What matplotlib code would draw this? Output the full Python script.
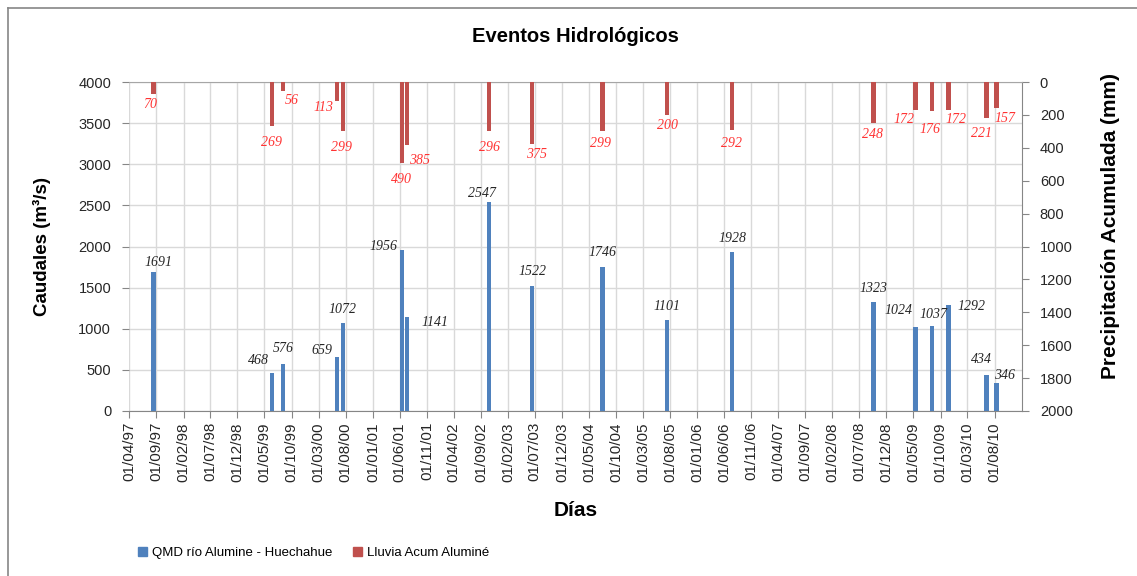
import matplotlib
matplotlib.use("Agg")
import matplotlib.pyplot as plt
import matplotlib.dates as mdates
from matplotlib.patches import Patch
from matplotlib.lines import Line2D
import pandas as pd

# event dates (bars share the same date for flow and rain)
dates = pd.to_datetime([
    "1997-08-16", "1999-06-13", "1999-08-13", "2000-06-13", "2000-07-16",
    "2001-06-13", "2001-07-13", "2002-10-18", "2003-06-16", "2004-07-16",
    "2005-07-16", "2006-07-16", "2008-09-18", "2009-05-13", "2009-08-13",
    "2009-11-16", "2010-06-16", "2010-08-13",
])
caudal = [1691, 468, 576, 659, 1072, 1956, 1141, 2547, 1522, 1746,
          1101, 1928, 1323, 1024, 1037, 1292, 434, 346]
lluvia = [70, 269, 56, 113, 299, 490, 385, 296, 375, 299,
          200, 292, 248, 172, 176, 172, 221, 157]

serie_q = "QMD río Alumine - Huechahue"
serie_r = "Lluvia Acum Aluminé"

# label nudges in pixels (layout only)
q_off = [(5, 9), (-13, 12), (0, 15), (-15, 6), (0, 13), (-18, 4), (28, -5),
         (-7, 8), (0, 14), (0, 15), (0, 14), (0, 14), (0, 14), (-17, 16),
         (2, 11), (23, -2), (-5, 16), (8, 7)]
r_off = [(-3, -11), (0, -16), (9, -9), (-13, -7), (-1, -16), (0, -17),
         (12, -15), (0, -17), (4, -11), (-2, -12), (0, -11), (-1, -13),
         (-1, -12), (-11, -9), (-2, -19), (7, -9), (-5, -15), (8, -11)]

BLUE = "#4f81bd"
RED = "#c0504d"
GRID = "#d9d9d9"
AXC = "#868686"

W, H = 1137, 576
fig = plt.figure(figsize=(W / 100, H / 100), dpi=100)
ax = fig.add_axes([129.3 / W, 165 / H, (1021.7 - 129.3) / W, 329 / H])
ax2 = ax.twinx()

bw = 25  # days
ax.bar(dates, caudal, width=bw, color=BLUE, zorder=3)
ax2.bar(dates, lluvia, width=bw, color=RED, zorder=3)

ax.set_xlim(pd.Timestamp("1997-04-01"), pd.Timestamp("2011-01-01"))
ax.set_ylim(0, 4000)
ax.set_yticks(range(0, 4001, 500))
ax2.set_ylim(2000, 0)
ax2.set_yticks(range(0, 2001, 200))

xt = pd.date_range("1997-04-01", "2010-08-01", freq="5MS")
ax.set_xticks(xt)
ax.xaxis.set_major_formatter(mdates.DateFormatter("%d/%m/%y"))
for lab in ax.get_xticklabels():
    lab.set_rotation(90)

ax.grid(True, color=GRID, lw=1, zorder=0)
ax.set_axisbelow(True)

for a in (ax, ax2):
    for s in a.spines.values():
        s.set_visible(False)
ax.spines["bottom"].set_visible(True)
ax.spines["bottom"].set_color(AXC)
ax2.spines["right"].set_visible(True)
ax2.spines["right"].set_color(AXC)
ax2.spines["top"].set_visible(True)
ax2.spines["top"].set_color("#a6a6a6")

ax.tick_params(axis="x", length=5, color=AXC, labelsize=11, labelcolor="#262626", pad=3)
ax.tick_params(axis="y", length=5, color=AXC, labelsize=10.5, labelcolor="#262626", pad=8)
ax2.tick_params(axis="y", length=5, color=AXC, labelsize=10.5, labelcolor="#262626", pad=8)
for lab in ax.get_xticklabels() + ax.get_yticklabels() + ax2.get_yticklabels():
    lab.set_family("Liberation Sans")

lab_font = dict(family="Liberation Serif", style="italic", size=10)
for d, v, off in zip(dates, caudal, q_off):
    ax.annotate(str(v), (d, v), xytext=off, textcoords="offset pixels",
                ha="center", va="center", color="#262626", zorder=5, **lab_font)
for d, v, off in zip(dates, lluvia, r_off):
    ax2.annotate(str(v), (d, v), xytext=off, textcoords="offset pixels",
                 ha="center", va="center", color="#ff3333", zorder=5, **lab_font)

bold = dict(family="Liberation Sans", weight="bold", color="black")
fig.text(575 / W, 1 - 37 / H, "Eventos Hidrológicos", ha="center", va="center", size=14.5, **bold)
fig.text(42 / W, 1 - 247 / H, "Caudales (m³/s)", ha="center", va="center", rotation=90, size=13.5, **bold)
fig.text(1110 / W, 1 - 226 / H, "Precipitación Acumulada (mm)", ha="center", va="center",
         rotation=90, size=15, **bold)
fig.text(576 / W, 1 - 510 / H, "Días", ha="center", va="center", size=15, **bold)

handles = [Patch(color=BLUE, label=serie_q), Patch(color=RED, label=serie_r)]
fig.legend(handles=handles, loc="center left", bbox_to_anchor=(126 / W, 23 / H), ncol=2,
           frameon=False, handlelength=0.7, handleheight=0.7, handletextpad=0.35,
           columnspacing=1.6, prop=dict(family="Liberation Sans", size=9.5))

# chart-area border (left and top visible)
fig.add_artist(Line2D([8 / W, 8 / W], [0, 1 - 8 / H], transform=fig.transFigure, color=AXC, lw=1.2))
fig.add_artist(Line2D([8 / W, 1], [1 - 8 / H, 1 - 8 / H], transform=fig.transFigure, color=AXC, lw=1.2))

fig.savefig("out.png", dpi=100)
